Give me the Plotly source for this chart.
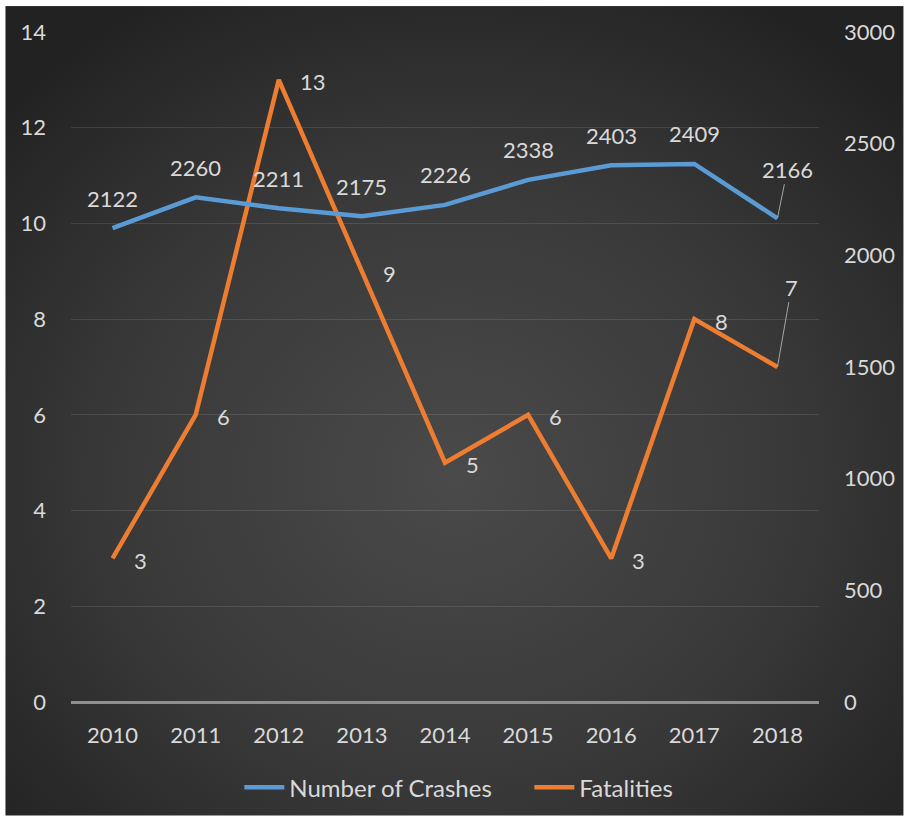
import base64
import plotly.graph_objects as go

# Yearly crash statistics
years = [2010, 2011, 2012, 2013, 2014, 2015, 2016, 2017, 2018]
crashes = [2122, 2260, 2211, 2175, 2226, 2338, 2403, 2409, 2166]
fatalities = [3, 6, 13, 9, 5, 6, 3, 8, 7]

left_ticks = [0, 2, 4, 6, 8, 10, 12, 14]
right_ticks = [0, 500, 1000, 1500, 2000, 2500, 3000]

BLUE = "#5b9bd5"
ORANGE = "#ed7d31"
TEXT = "#d9d9d9"
FONT = "Lato"

# Figure geometry (pixels)
W, H = 907, 822
ML, MR, MT, MB = 71, 85, 32, 118
PW, PH = W - ML - MR, H - MT - MB

# Dark radial-gradient backdrop for the chart area
svg = f"""<svg xmlns='http://www.w3.org/2000/svg' width='902' height='812' viewBox='0 0 902 812'>
<defs><radialGradient id='g' cx='50%' cy='58%' r='68%'>
<stop offset='0%' stop-color='#4a4a4a'/>
<stop offset='55%' stop-color='#393939'/>
<stop offset='100%' stop-color='#222222'/>
</radialGradient></defs>
<rect width='902' height='812' fill='url(#g)'/></svg>"""
bg_src = "data:image/svg+xml;base64," + base64.b64encode(svg.encode()).decode()

px0, px1, py0, py1 = 5, 907, 6, 818
bg_x = (px0 - ML) / PW
bg_y = (H - MB - py0) / PH
bg_w = (px1 - px0) / PW
bg_h = (py1 - py0) / PH

fig = go.Figure()

fig.add_trace(go.Scatter(
    x=years, y=crashes, name="Number of Crashes", yaxis="y2",
    mode="lines", line=dict(color=BLUE, width=4.5),
    hoverinfo="skip",
))
fig.add_trace(go.Scatter(
    x=years, y=fatalities, name="Fatalities", yaxis="y",
    mode="lines", line=dict(color=ORANGE, width=4.5),
    hoverinfo="skip",
))

annotations = []
label_font = dict(family=FONT, size=22, color=TEXT)
n = len(years)
for i, (yr, c) in enumerate(zip(years, crashes)):
    if i == n - 1:
        annotations.append(dict(
            x=yr, y=c, xref="x", yref="y2", text=str(c), showarrow=True,
            arrowhead=0, arrowwidth=1, arrowcolor="#a6a6a6",
            ax=10, ay=-49, standoff=0, font=label_font,
        ))
    else:
        annotations.append(dict(
            x=yr, y=c, xref="x", yref="y2", text=str(c), showarrow=False,
            xanchor="center", yanchor="middle", yshift=30, font=label_font,
        ))
for i, (yr, f) in enumerate(zip(years, fatalities)):
    if i == n - 1:
        annotations.append(dict(
            x=yr, y=f, xref="x", yref="y", text=str(f), showarrow=True,
            arrowhead=0, arrowwidth=1, arrowcolor="#a6a6a6",
            ax=14, ay=-80, standoff=0, font=label_font,
        ))
    else:
        annotations.append(dict(
            x=yr, y=f, xref="x", yref="y", text=str(f), showarrow=False,
            xanchor="left", yanchor="middle", xshift=19, yshift=-2,
            font=label_font,
        ))

fig.update_layout(
    width=W, height=H,
    margin=dict(l=ML, r=MR, t=MT, b=MB),
    paper_bgcolor="white",
    plot_bgcolor="rgba(0,0,0,0)",
    font=dict(family=FONT, size=22, color=TEXT),
    showlegend=True,
    legend=dict(
        orientation="h", x=(240 - ML) / PW, xanchor="left",
        y=(H - MB - 790) / PH, yanchor="middle",
        font=dict(family=FONT, size=24, color=TEXT),
        bgcolor="rgba(0,0,0,0)", itemwidth=40, entrywidth=235,
    ),
    xaxis=dict(
        type="linear", range=[years[0] - 0.5, years[-1] + 0.5],
        tickvals=years, ticktext=[str(y) for y in years],
        showgrid=False, showline=False, zeroline=False,
        ticks="", tickfont=dict(family=FONT, size=22, color=TEXT),
        ticklabelstandoff=18,
    ),
    yaxis=dict(
        range=[0, 14], tickvals=left_ticks, showgrid=True,
        gridcolor="rgba(255,255,255,0.11)", gridwidth=1,
        zeroline=True, zerolinecolor="#8f8f8f", zerolinewidth=2.5,
        showline=False, ticks="",
        tickfont=dict(family=FONT, size=22, color=TEXT),
        ticklabelstandoff=24,
    ),
    yaxis2=dict(
        range=[0, 3000], tickvals=right_ticks, overlaying="y", side="right",
        showgrid=False, zeroline=False, showline=False, ticks="",
        tickfont=dict(family=FONT, size=22, color=TEXT),
        ticklabelstandoff=24,
    ),
    images=[dict(
        source=bg_src, xref="paper", yref="paper",
        x=bg_x, y=bg_y, sizex=bg_w, sizey=bg_h,
        sizing="stretch", xanchor="left", yanchor="top", layer="below",
    )],
    annotations=annotations,
)

fig.write_html("out.html")
